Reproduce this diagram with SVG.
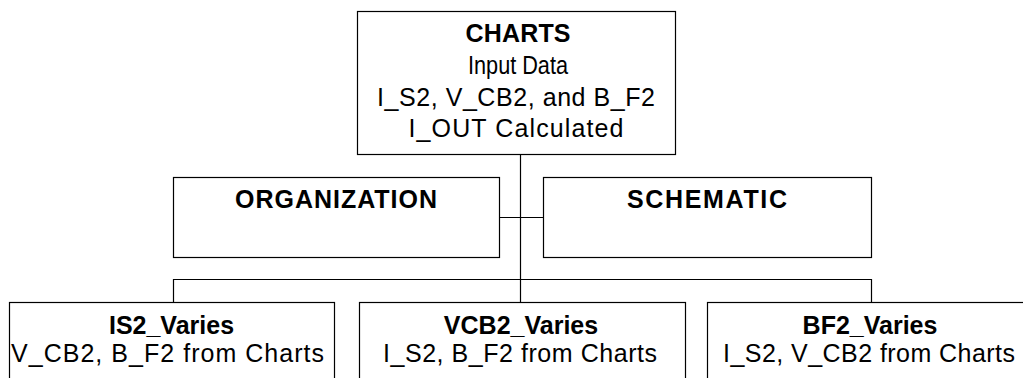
<svg xmlns="http://www.w3.org/2000/svg" width="1023" height="378" viewBox="0 0 1023 378">
<style>
.box{fill:#fff;stroke:#000;stroke-width:1.2}
.t{font-family:"Liberation Sans",Arial,sans-serif;font-size:25px;fill:#000;text-anchor:middle}
.b{font-weight:bold}
.c{fill:none;stroke:#000;stroke-width:1.2}
</style>
<rect width="1023" height="378" fill="#fff"/>
<g id="connectors">
<line class="c" x1="520.5" y1="155" x2="520.5" y2="217" stroke-width="1.8"/>
<line class="c" x1="520.5" y1="217" x2="520.5" y2="302" stroke="#555"/>
<line class="c" x1="499" y1="217.5" x2="543" y2="217.5"/>
<polyline class="c" points="173.5,302 173.5,279.5 871.5,279.5 871.5,302"/>
</g>
<g id="charts">
<rect class="box" x="357.5" y="11.5" width="318" height="143"/>
<text class="t b" x="518" y="42" textLength="105">CHARTS</text>
<text class="t" x="518" y="74" textLength="100" lengthAdjust="spacingAndGlyphs">Input Data</text>
<text class="t" x="516" y="106" textLength="278">I_S2, V_CB2, and B_F2</text>
<text class="t" x="516" y="137" textLength="215">I_OUT Calculated</text>
</g>
<g id="organization">
<rect class="box" x="173.5" y="177.5" width="326" height="80"/>
<text class="t b" x="336" y="208" textLength="202">ORGANIZATION</text>
</g>
<g id="schematic">
<rect class="box" x="543.5" y="177.5" width="328" height="80"/>
<text class="t b" x="707" y="208" textLength="160">SCHEMATIC</text>
</g>
<g id="is2">
<rect class="box" x="9.5" y="302.5" width="325" height="90"/>
<text class="t b" x="171.5" y="334">IS2_Varies</text>
<text class="t" x="167.5" y="362" textLength="313">V_CB2, B_F2 from Charts</text>
</g>
<g id="vcb2">
<rect class="box" x="359.5" y="302.5" width="326" height="90"/>
<text class="t b" x="521" y="334">VCB2_Varies</text>
<text class="t" x="520" y="362" textLength="274">I_S2, B_F2 from Charts</text>
</g>
<g id="bf2">
<rect class="box" x="707.5" y="302.5" width="326" height="90"/>
<text class="t b" x="870" y="334">BF2_Varies</text>
<text class="t" x="869" y="362" textLength="292">I_S2, V_CB2 from Charts</text>
</g>
</svg>
